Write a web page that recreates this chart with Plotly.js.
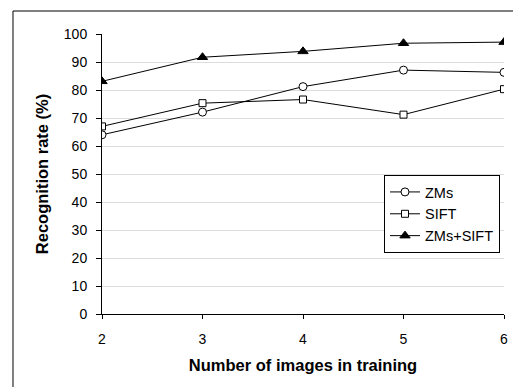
<!DOCTYPE html>
<html><head><meta charset="utf-8">
<script src="https://cdn.plot.ly/plotly-3.0.1.min.js"></script>
<style>html,body{margin:0;padding:0;background:#fff}#chart{width:513px;height:387px}</style>
</head><body><div id="chart"></div>
<script>
const trainingImages = [2, 3, 4, 5, 6];
const zmsRate = [64.0, 72.1, 81.2, 87.1, 86.3];
const siftRate = [67.0, 75.3, 76.6, 71.2, 80.3];
const combinedRate = [83.1, 91.7, 93.8, 96.7, 97.1];
const seriesNames = ['ZMs', 'SIFT', 'ZMs+SIFT'];

const font = 'Liberation Sans, Arial, sans-serif';
const common = {type: 'scatter', mode: 'lines+markers', line: {color: '#000', width: 1}};
const traces = [
  Object.assign({}, common, {x: trainingImages, y: zmsRate, name: seriesNames[0],
    marker: {symbol: 'circle', size: 8, color: '#fff', line: {color: '#000', width: 1}}}),
  Object.assign({}, common, {x: trainingImages, y: siftRate, name: seriesNames[1],
    marker: {symbol: 'square', size: 7, color: '#fff', line: {color: '#000', width: 1}}}),
  Object.assign({}, common, {x: trainingImages, y: combinedRate, name: seriesNames[2],
    marker: {symbol: 'triangle-up', size: 9, color: '#000', line: {color: '#000', width: 1}}})
];

const layout = {
  width: 513, height: 387,
  margin: {l: 102, r: 9, t: 34, b: 73},
  paper_bgcolor: '#fff', plot_bgcolor: '#fff',
  font: {family: font, size: 14, color: '#000'},
  showlegend: true,
  legend: {x: 0.7015, y: 0.4964, xanchor: 'left', yanchor: 'top',
    bordercolor: '#000', borderwidth: 1, bgcolor: '#fff',
    font: {family: font, size: 14.5, color: '#000'}, tracegroupgap: 0},
  xaxis: {range: [2, 6], tickvals: trainingImages, showgrid: false, zeroline: false,
    showline: true, linecolor: '#000', linewidth: 1, ticks: 'outside', ticklen: 4, tickcolor: '#000',
    ticklabelstandoff: 8,
    tickfont: {family: font, size: 14}, fixedrange: true,
    title: {text: '<b>Number of images in training</b>', font: {family: font, size: 16.5}, standoff: 13}},
  yaxis: {range: [0, 100], dtick: 10, showgrid: true, gridcolor: '#dcdcdc', gridwidth: 1, zeroline: false,
    showline: true, linecolor: '#000', linewidth: 1, ticks: 'outside', ticklen: 5, tickcolor: '#000',
    ticklabelstandoff: 6,
    tickfont: {family: font, size: 14}, fixedrange: true,
    title: {text: '<b>Recognition rate (%)</b>', font: {family: font, size: 16.5}, standoff: 11}},
  shapes: [{type: 'rect', xref: 'paper', yref: 'paper', x0: -0.2214, x1: 1.2, y0: -0.3, y1: 1.0821,
    line: {color: '#000', width: 1}, fillcolor: 'rgba(0,0,0,0)', layer: 'below'}]
};
Plotly.newPlot('chart', traces, layout, {displayModeBar: false, staticPlot: true});
</script></body></html>
